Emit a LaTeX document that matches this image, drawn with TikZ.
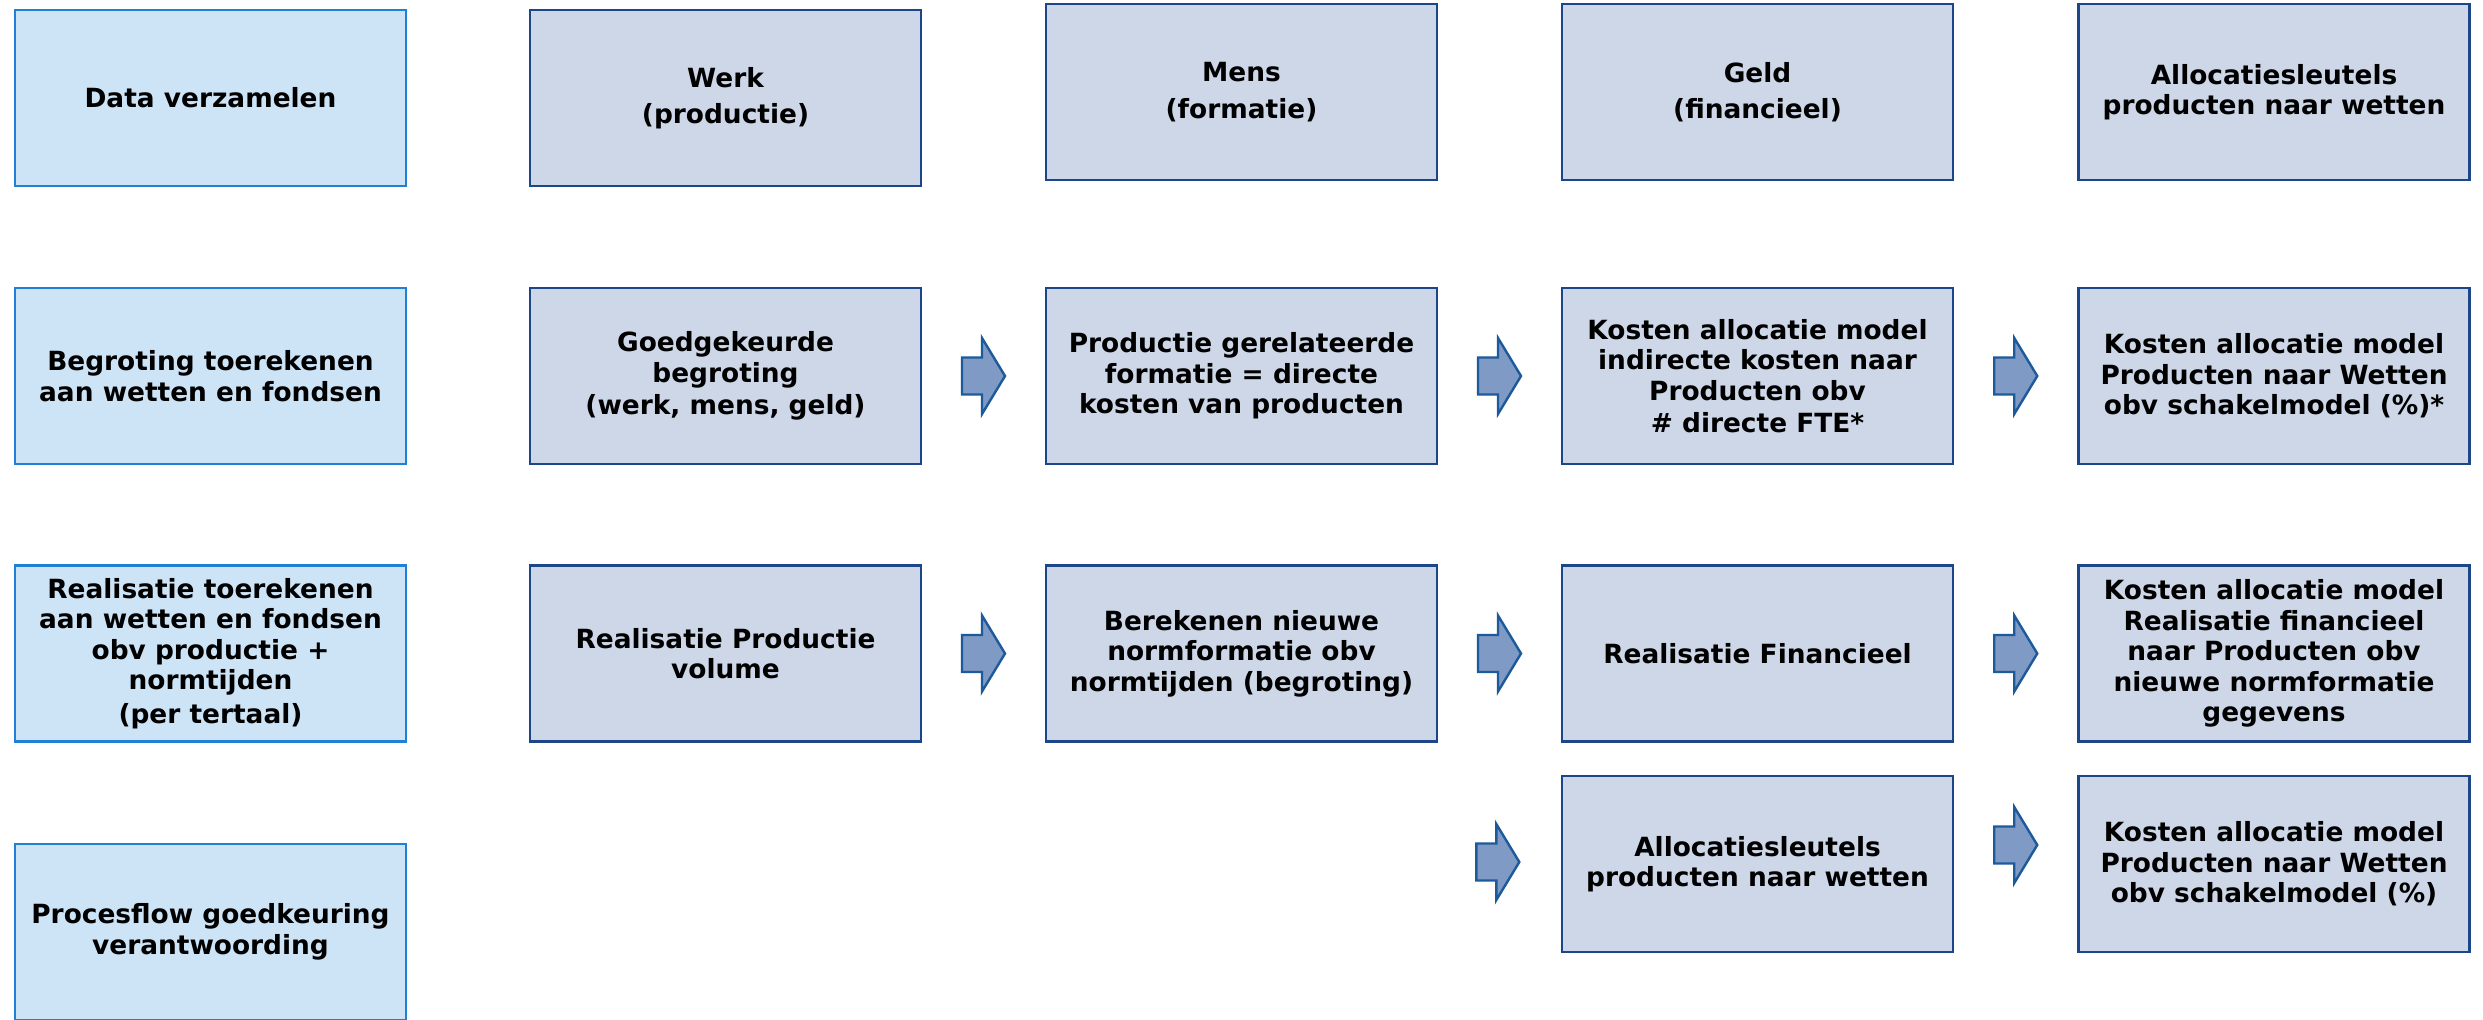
\documentclass[tikz,border=0pt]{standalone}
\usepackage{fontspec}
\setmainfont{DejaVu Sans}
\usetikzlibrary{calc}
\definecolor{lbfill}{HTML}{CDE3F6}
\definecolor{lbdraw}{HTML}{1F80D6}
\definecolor{gbfill}{HTML}{CDD7E8}
\definecolor{gbdraw}{HTML}{1B468A}
\definecolor{arfill}{HTML}{7F9AC4}
\definecolor{ardraw}{HTML}{1C5A9B}
\begin{document}
\begin{tikzpicture}[x=0.5pt,y=-0.5pt,
  box/.style={rectangle, minimum width=195.5pt, minimum height=88pt, inner sep=0pt,
    align=center, line width=1.2pt, font=\bfseries\fontsize{13.2}{15.2}\selectfont},
  leftbox/.style={box, fill=lbfill, draw=lbdraw},
  mainbox/.style={box, fill=gbfill, draw=gbdraw},
  barrow/.pic={\draw[fill=arfill, draw=ardraw, line width=1.2pt, line join=miter]
    (-21.5,-18.5) -- (-1.5,-18.5) -- (-1.5,-38) -- (21.5,0) -- (-1.5,38) -- (-1.5,18.5) -- (-21.5,18.5) -- cycle;}
]
\useasboundingbox (0,0) rectangle (2483,1019);
\fill[white] (0,0) rectangle (2483,1019);

% row 1
\node[leftbox] (r1c1) at (210.5,98) {Data verzamelen};
\node[mainbox] (r1c2) at (725.5,98) {Werk\\[3pt](productie)};
\node[mainbox] (r1c3) at (1241.5,92) {Mens\\[3pt](formatie)};
\node[mainbox] (r1c4) at (1757.5,92) {Geld\\[3pt](financieel)};
\node[mainbox] (r1c5) at (2274,92) {Allocatiesleutels\\producten naar wetten};

% row 2
\node[leftbox] (r2c1) at (210.5,376) {Begroting toerekenen\\aan wetten en fondsen};
\node[mainbox] (r2c2) at (725.5,376) {Goedgekeurde\\begroting\\[1pt](werk, mens, geld)};
\node[mainbox] (r2c3) at (1241.5,376) {Productie gerelateerde\\formatie = directe\\kosten van producten};
\node[mainbox] (r2c4) at (1757.5,376) {Kosten allocatie model\\indirecte kosten naar\\Producten obv\\[1pt]\# directe FTE*};
\node[mainbox] (r2c5) at (2274,376) {Kosten allocatie model\\Producten naar Wetten\\obv schakelmodel (\%)*};

% row 3
\node[leftbox] (r3c1) at (210.5,653.5) {Realisatie toerekenen\\aan wetten en fondsen\\obv productie +\\normtijden\\[1.5pt](per tertaal)};
\node[mainbox] (r3c2) at (725.5,653.5) {Realisatie Productie\\volume};
\node[mainbox] (r3c3) at (1241.5,653.5) {Berekenen nieuwe\\normformatie obv\\normtijden (begroting)};
\node[mainbox] (r3c4) at (1757.5,653.5) {Realisatie Financieel};
\node[mainbox] (r3c5) at (2274,653.5) {Kosten allocatie model\\Realisatie financieel\\naar Producten obv\\nieuwe normformatie\\gegevens};

% row 4
\node[leftbox] (r4c1) at (210.5,932) {Procesflow goedkeuring\\verantwoording};
\node[mainbox] (r4c4) at (1757.5,864) {Allocatiesleutels\\producten naar wetten};
\node[mainbox] (r4c5) at (2274,864) {Kosten allocatie model\\Producten naar Wetten\\obv schakelmodel (\%)};

% block arrows
\pic at ($(r2c2.east)!0.5!(r2c3.west)$) {barrow};
\pic at ($(r2c3.east)!0.5!(r2c4.west)$) {barrow};
\pic at ($(r2c4.east)!0.5!(r2c5.west)$) {barrow};
\pic at ($(r3c2.east)!0.5!(r3c3.west)$) {barrow};
\pic at ($(r3c3.east)!0.5!(r3c4.west)$) {barrow};
\pic at ($(r3c4.east)!0.5!(r3c5.west)$) {barrow};
\pic at ($(r4c4.west)+(-63,-2)$) {barrow};
\pic at ($(r4c4.east)!0.5!(r4c5.west)+(0,-19)$) {barrow};
\end{tikzpicture}
\end{document}
